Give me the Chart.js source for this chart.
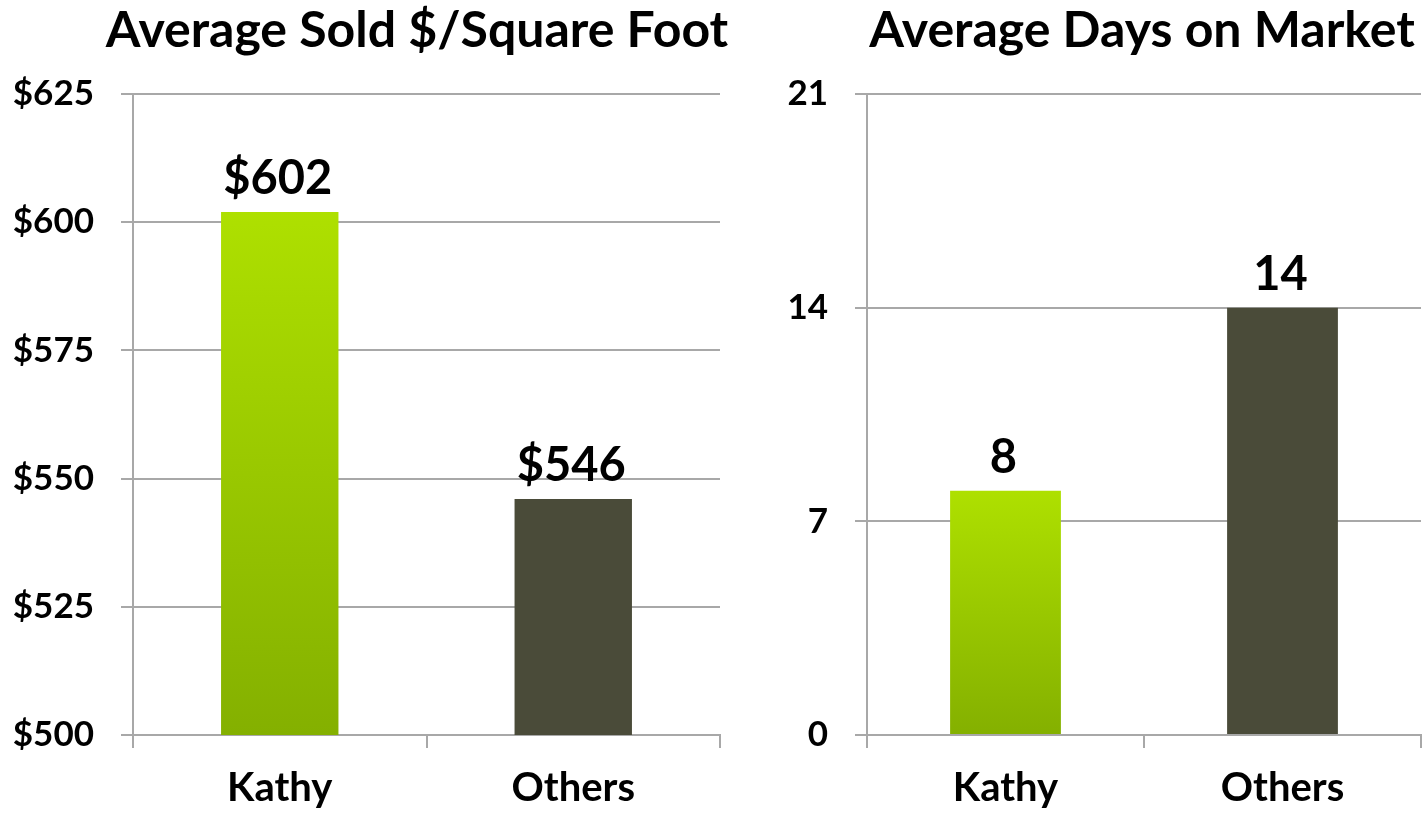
<!DOCTYPE html>
<html>
<head>
<meta charset="utf-8">
<script src="https://cdn.jsdelivr.net/npm/chart.js@4.4.1/dist/chart.umd.min.js"></script>
<style>
  html, body { margin: 0; padding: 0; background: #fff; }
  body { width: 1424px; height: 817px; position: relative; overflow: hidden; }
  .box { position: absolute; top: 0; height: 817px; }
  #leftBox { left: 0; width: 730px; }
  #rightBox { left: 730px; width: 694px; }
</style>
</head>
<body>
<div class="box" id="leftBox"><canvas id="priceChart"></canvas></div>
<div class="box" id="rightBox"><canvas id="daysChart"></canvas></div>
<script>
// chart data
const categories = ['Kathy', 'Others'];
const soldPerSqFt = [602, 546];
const daysOnMarket = [8, 14];
const priceAxis = [500, 625, 25];   // min, max, step
const daysAxis = [0, 21, 7];

const FONT = 'Lato, "Open Sans", sans-serif';
const WEIGHT = 'bold';
const GRID = '#a8a8a8';
const DARK = '#4a4b39';

// Kathy bar gets a top-to-bottom lime gradient, per bar
function barFill(context) {
  if (context.dataIndex !== 0) return DARK;
  const chart = context.chart;
  const yScale = chart.scales.y;
  if (!yScale || !chart.chartArea) return '#a0d000';
  const top = yScale.getPixelForValue(context.raw);
  const bottom = yScale.getPixelForValue(yScale.min);
  const grad = chart.ctx.createLinearGradient(0, top, 0, bottom);
  grad.addColorStop(0, '#aee000');
  grad.addColorStop(1, '#84b000');
  return grad;
}

// value labels above each bar
const valueLabels = {
  id: 'valueLabels',
  afterDatasetsDraw(chart, args, opts) {
    const ctx = chart.ctx;
    const meta = chart.getDatasetMeta(0);
    ctx.save();
    ctx.font = WEIGHT + ' 47px ' + FONT;
    ctx.fillStyle = '#000';
    ctx.textAlign = 'center';
    ctx.textBaseline = 'alphabetic';
    meta.data.forEach(function(bar, i) {
      const v = chart.data.datasets[0].data[i];
      ctx.fillText(opts.prefix + v, bar.x - 2, bar.y - 18);
    });
    ctx.restore();
  }
};

// heading drawn by hand: the built-in title can only centre on the canvas
// or the chart area, and the original sits a little off both
const heading = {
  id: 'heading',
  afterDraw(chart, args, opts) {
    const ctx = chart.ctx;
    ctx.save();
    ctx.font = WEIGHT + ' 50px ' + FONT;
    ctx.fillStyle = '#000';
    ctx.textAlign = 'center';
    ctx.textBaseline = 'alphabetic';
    ctx.fillText(opts.text, opts.x, 47);
    ctx.restore();
  }
};

function makeChart(canvasId, title, titleX, values, axis, prefix, yWidth, padRight) {
  const ctx = document.getElementById(canvasId).getContext('2d');
  return new Chart(ctx, {
    type: 'bar',
    data: {
      labels: categories,
      datasets: [{
        data: values,
        backgroundColor: barFill,
        borderWidth: 0,
        barPercentage: 0.4,
        categoryPercentage: 1
      }]
    },
    options: {
      responsive: true,
      maintainAspectRatio: false,
      animation: false,
      layout: { padding: { left: 0, right: padRight, top: 94, bottom: 0 } },
      plugins: {
        legend: { display: false },
        tooltip: { enabled: false },
        title: { display: false },
        heading: { text: title, x: titleX },
        valueLabels: { prefix: prefix }
      },
      scales: {
        x: {
          grid: {
            display: true,
            offset: true,
            drawOnChartArea: false,
            drawTicks: true,
            tickLength: 13,
            color: GRID,
            lineWidth: 2
          },
          border: { display: true, color: GRID, width: 2 },
          ticks: {
            color: '#000',
            padding: 16,
            font: { family: FONT, size: 40, weight: WEIGHT, lineHeight: 1.2 }
          },
          afterFit: function(scale) { scale.height = 82; }
        },
        y: {
          min: axis[0],
          max: axis[1],
          grid: {
            color: GRID,
            lineWidth: 2,
            drawTicks: true,
            tickLength: 12
          },
          border: { display: true, color: GRID, width: 2 },
          ticks: {
            stepSize: axis[2],
            color: '#000',
            padding: 27,
            font: { family: FONT, size: 35, weight: WEIGHT },
            callback: function(v) { return prefix + v; }
          },
          afterFit: function(scale) { scale.width = yWidth; }
        }
      }
    },
    plugins: [valueLabels, heading]
  });
}

makeChart('priceChart', 'Average Sold $/Square Foot', 417, soldPerSqFt, priceAxis, '$', 133, 10);
makeChart('daysChart', 'Average Days on Market', 412, daysOnMarket, daysAxis, '', 137, 3);
</script>
</body>
</html>
